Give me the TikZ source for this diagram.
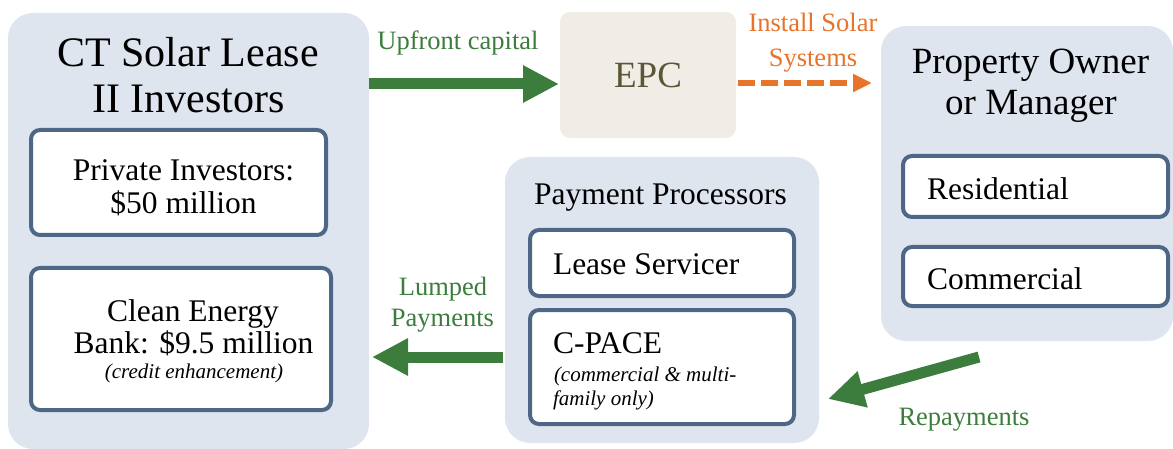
\documentclass[tikz,border=0pt]{standalone}
\usepackage{fontspec}
\setmainfont{Liberation Serif}
\usetikzlibrary{arrows.meta}
\definecolor{boxfill}{HTML}{DEE5EE}
\definecolor{boxline}{HTML}{4F6787}
\definecolor{epcfill}{HTML}{EFEDE5}
\definecolor{epctext}{HTML}{5B5637}
\definecolor{flowgreen}{HTML}{3C7D3D}
\definecolor{flowor}{HTML}{E8732A}
\begin{document}
\begin{tikzpicture}[x=1pt,y=-1pt,
  group/.style={fill=boxfill, rounded corners=25pt, inner sep=0pt, outer sep=0pt},
  item/.style={draw=boxline, line width=4pt, fill=white, rounded corners=9pt, inner sep=0pt, outer sep=0pt},
  txt/.style={anchor=base, inner sep=0pt, outer sep=0pt},
  ltxt/.style={anchor=base west, inner sep=0pt, outer sep=0pt},
  bigtitle/.style={font=\fontsize{42}{47}\selectfont},
  midtitle/.style={font=\fontsize{37}{40}\selectfont},
  body/.style={font=\fontsize{31.5}{36}\selectfont},
  note/.style={font=\fontsize{21}{24}\selectfont\itshape},
  lbl/.style={font=\fontsize{26.5}{31}\selectfont},
  greenflow/.style={draw=flowgreen, line width=11pt, -{Triangle[length=36pt,width=35pt]}},
  orangeflow/.style={draw=flowor, line width=6pt, dash pattern=on 17pt off 6pt, -{Triangle[length=19pt,width=17pt]}}
]
\useasboundingbox (0,0) rectangle (1173,449);

% group boxes
\node[group, minimum width=361pt, minimum height=436pt] (inv) at (188.5,231) {};
\node[fill=epcfill, rounded corners=10pt, inner sep=0pt, outer sep=0pt, minimum width=176pt, minimum height=126pt] (epc) at (648,75) {};
\node[group, minimum width=292pt, minimum height=315pt] (prop) at (1027,183.5) {};
\node[group, minimum width=314pt, minimum height=286pt] (pay) at (662,300) {};

% inner boxes
\node[item, minimum width=295pt, minimum height=105pt] (priv) at (178.5,182.5) {};
\node[item, minimum width=300pt, minimum height=142pt] (bank) at (181,339) {};
\node[item, minimum width=265pt, minimum height=61pt] (res) at (1035.5,186.5) {};
\node[item, minimum width=265pt, minimum height=59pt] (com) at (1035.5,276.5) {};
\node[item, minimum width=264pt, minimum height=66pt] (lease) at (662,263) {};
\node[item, minimum width=264pt, minimum height=114pt] (cpace) at (662,367) {};

% texts
\node[txt, bigtitle] (invt1) at (188,67) {CT Solar Lease};
\node[txt, bigtitle] (invt2) at (188.5,113) {II Investors};
\node[txt, body] (privt1) at (183.5,181) {Private Investors:};
\node[txt, body] (privt2) at (183.5,214) {\$50 million};
\node[txt, body] (bankt1) at (193,321) {Clean Energy};
\node[txt, body] (bankt2) at (193.5,353) {Bank: \$9.5 million};
\node[txt, note] (bankt3) at (194,378) {(credit enhancement)};
\node[txt, midtitle, text=epctext] (epct) at (648,88) {EPC};
\node[txt, midtitle] (propt1) at (1030.5,74) {Property Owner};
\node[txt, midtitle] (propt2) at (1031,115) {or Manager};
\node[ltxt, body] (rest) at (927,200) {Residential};
\node[ltxt, body] (comt) at (927,290) {Commercial};
\node[txt, body] (payt) at (660.5,205) {Payment Processors};
\node[ltxt, body] (leaset) at (553,274) {Lease Servicer};
\node[ltxt, body] (cpacet) at (553,353) {C-PACE};
\node[ltxt, note] (cpacen1) at (554,381) {(commercial \& multi-};
\node[ltxt, note] (cpacen2) at (553,405) {family only)};

% labels
\node[txt, lbl, text=flowgreen] (upl) at (458,50) {Upfront capital};
\node[txt, lbl, text=flowor] (insl1) at (813,32) {Install Solar};
\node[txt, lbl, text=flowor] (insl2) at (813,67) {Systems};
\node[txt, lbl, text=flowgreen] (luml1) at (443,295) {Lumped};
\node[txt, lbl, text=flowgreen] (luml2) at (442.5,326) {Payments};
\node[txt, lbl, text=flowgreen] (repl) at (964,425) {Repayments};

% connectors
\draw[greenflow, shorten >=1pt] (inv.east |- 0,84) -- (epc.west |- 0,84);
\draw[orangeflow, shorten <=2pt, shorten >=9pt] (epc.east |- 0,83) -- (prop.west |- 0,83);
\draw[greenflow, shorten <=2pt, shorten >=3pt] (pay.west |- 0,357) -- (inv.east |- 0,357);
\coordinate (reptail) at (979,357);
\coordinate (reptip) at (828,399);
\draw[greenflow] (reptail) -- (reptip);
\end{tikzpicture}
\end{document}
